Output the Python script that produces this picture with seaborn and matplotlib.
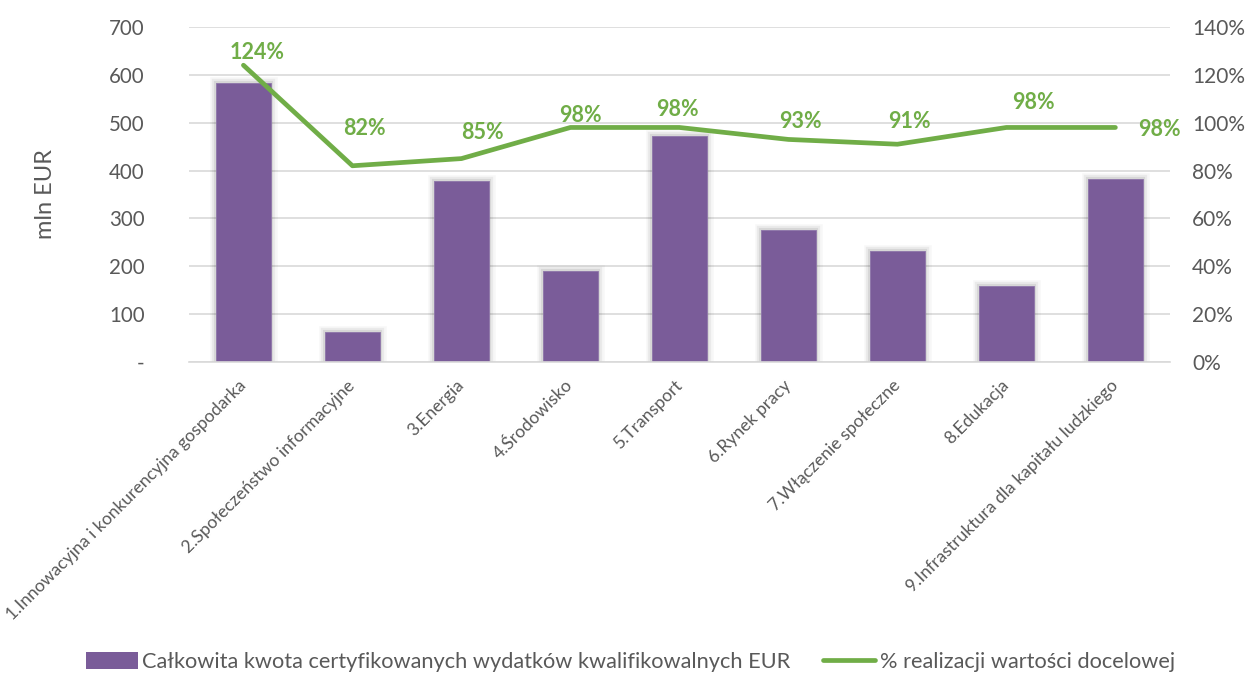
import matplotlib
matplotlib.use("Agg")
import matplotlib.pyplot as plt
import matplotlib.patheffects as pe
from matplotlib.patches import Patch
from matplotlib.lines import Line2D
from matplotlib.ticker import FuncFormatter
import seaborn as sns
import pandas as pd

categories = [
    "1.Innowacyjna i konkurencyjna gospodarka",
    "2.Społeczeństwo informacyjne",
    "3.Energia",
    "4.Środowisko",
    "5.Transport",
    "6.Rynek pracy",
    "7.Włączenie społeczne",
    "8.Edukacja",
    "9.Infrastruktura dla kapitału ludzkiego",
]
kwota = [583, 63, 378, 190, 472, 276, 231, 159, 383]
realizacja = [1.24, 0.82, 0.85, 0.98, 0.98, 0.93, 0.91, 0.98, 0.98]
left_ticks = [0, 100, 200, 300, 400, 500, 600, 700]
left_labels = ["-", "100", "200", "300", "400", "500", "600", "700"]
right_ticks = [0, 0.2, 0.4, 0.6, 0.8, 1.0, 1.2, 1.4]
bar_name = "Całkowita kwota certyfikowanych wydatków kwalifikowalnych EUR"
line_name = "% realizacji wartości docelowej"
y_label = "mln EUR"

# label offsets in pixels (dx, dy) relative to each line point
label_offsets = [(14, 13), (12, 37), (21, 26), (10, 12), (-2, 18), (12, 18), (12, 23), (27, 25), (44, -2)]

sns.set_theme(style="white")
plt.rcParams["font.family"] = ["Lato", "DejaVu Sans"]

PURPLE = "#7a5c99"
GREEN = "#70ad47"
GRID = "#d9d9d9"
TXT = "#595959"

df = pd.DataFrame({"cat": categories, "kwota": kwota, "real": realizacja})

fig = plt.figure(figsize=(12.48, 6.73), dpi=100)
ax = fig.add_axes([0.1514, 0.462, 0.786, 0.498])

sns.barplot(data=df, x="cat", y="kwota", color=PURPLE, width=0.5, saturation=1, ax=ax, zorder=2)
for p in ax.patches:
    p.set_path_effects([
        pe.Stroke(linewidth=9, foreground="#000000", alpha=0.03),
        pe.Stroke(linewidth=6, foreground="#000000", alpha=0.05),
        pe.Stroke(linewidth=3, foreground="#000000", alpha=0.08),
        pe.Normal(),
    ])
    p.set_edgecolor("#8f76aa")
    p.set_linewidth(0.6)

ax.set_xlim(-0.5, len(categories) - 0.5)
ax.set_ylim(0, 700)
ax.set_yticks(left_ticks)
ax.set_yticklabels(left_labels)
ax.yaxis.grid(True, color=GRID, linewidth=1.2, zorder=0)
ax.set_axisbelow(True)
for s in ["top", "right", "left"]:
    ax.spines[s].set_visible(False)
ax.spines["bottom"].set_color(GRID)
ax.spines["bottom"].set_linewidth(1.2)
ax.tick_params(axis="y", length=0, pad=32, labelsize=14.8, labelcolor=TXT)
ax.tick_params(axis="x", length=0, pad=15, labelsize=12.6, labelcolor=TXT)
ax.set_xlabel("")
ax.set_ylabel(y_label, fontsize=17, color=TXT, labelpad=38)
for lab in ax.get_xticklabels():
    lab.set_rotation(45)
    lab.set_ha("right")
    lab.set_va("center")
    lab.set_rotation_mode("anchor")

ax2 = ax.twinx()
sns.lineplot(x=list(range(len(categories))), y=realizacja, ax=ax2, color=GREEN, linewidth=3.4, zorder=5)
ax2.set_ylim(0, 1.4)
ax2.set_yticks(right_ticks)
ax2.yaxis.set_major_formatter(FuncFormatter(lambda v, _: f"{v*100:.0f}%"))
ax2.tick_params(axis="y", length=0, pad=16, labelsize=15, labelcolor=TXT)
ax2.grid(False)
for s in ["top", "right", "left", "bottom"]:
    ax2.spines[s].set_visible(False)
ax2.set_ylabel("")

for i, (v, (dx, dy)) in enumerate(zip(realizacja, label_offsets)):
    ax2.annotate(f"{v*100:.0f}%", xy=(i, v), xytext=(dx, dy), textcoords="offset pixels",
                 ha="center", va="center", fontsize=15.5, fontweight="bold", color=GREEN)

handles = [Patch(facecolor=PURPLE, edgecolor="none"), Line2D([0], [0], color=GREEN, linewidth=3.4)]
fig.legend(handles, [bar_name, line_name], loc="center", bbox_to_anchor=(0.505, 0.016),
           ncol=2, frameon=False, fontsize=15.7, labelcolor=TXT, handlelength=2.4,
           handleheight=0.8, handletextpad=0.2, columnspacing=1.5)

fig.savefig("out.png", dpi=100)
